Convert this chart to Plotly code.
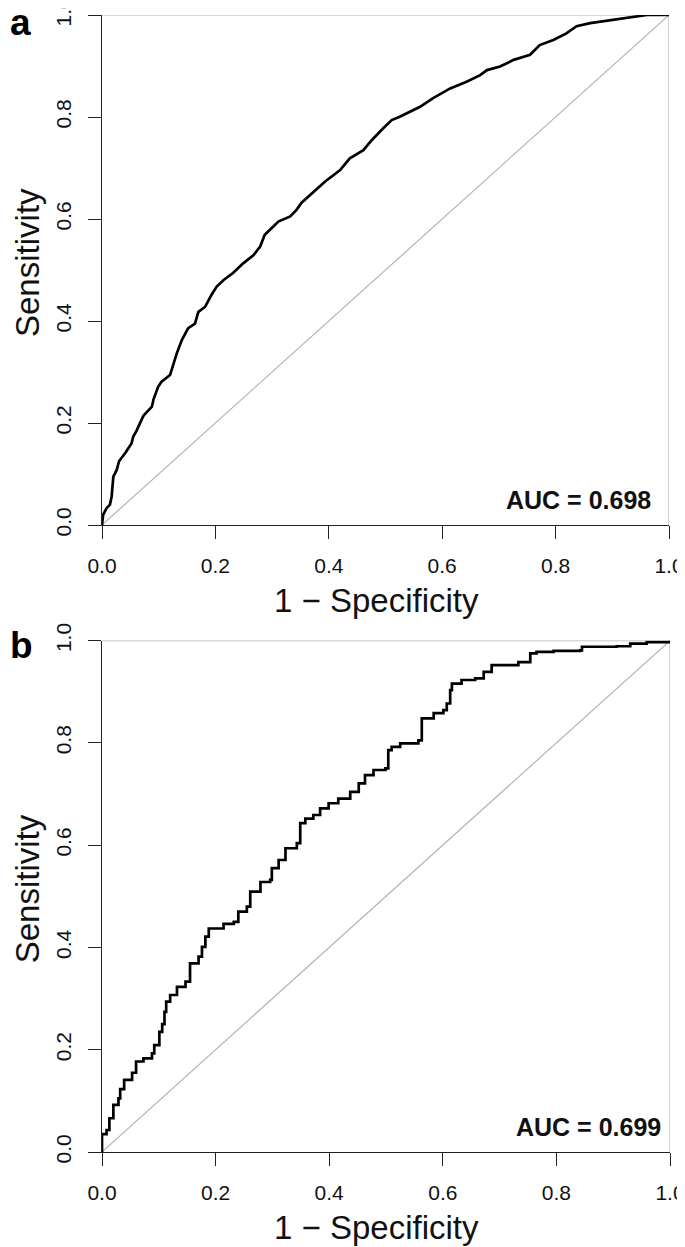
import plotly.graph_objects as go

W, H = 685, 1247

# ---- data: ROC curve points (1 - specificity, sensitivity) ----
fpr_a = [0, 0.002, 0.008, 0.014, 0.017, 0.019, 0.020, 0.026, 0.030, 0.041, 0.044, 0.052,
         0.055, 0.061, 0.073, 0.088, 0.091, 0.099, 0.105, 0.120, 0.132, 0.141, 0.152,
         0.164, 0.170, 0.182, 0.193, 0.202, 0.214, 0.231, 0.249, 0.267, 0.279, 0.287,
         0.299, 0.311, 0.332, 0.343, 0.352, 0.376, 0.393, 0.420, 0.437, 0.461, 0.476,
         0.496, 0.511, 0.526, 0.561, 0.584, 0.614, 0.643, 0.667, 0.679, 0.702, 0.726,
         0.755, 0.772, 0.796, 0.819, 0.837, 0.861, 0.896, 0.931, 0.961, 1.0]
tpr_a = [0, 0.020, 0.033, 0.040, 0.056, 0.085, 0.095, 0.108, 0.125, 0.141, 0.147, 0.160,
         0.173, 0.185, 0.214, 0.232, 0.247, 0.271, 0.281, 0.294, 0.337, 0.363, 0.386,
         0.395, 0.418, 0.428, 0.451, 0.467, 0.480, 0.494, 0.513, 0.529, 0.546, 0.569,
         0.582, 0.595, 0.605, 0.618, 0.632, 0.657, 0.673, 0.696, 0.719, 0.735, 0.755,
         0.778, 0.794, 0.801, 0.820, 0.837, 0.856, 0.869, 0.882, 0.892, 0.899, 0.912,
         0.922, 0.941, 0.951, 0.964, 0.978, 0.984, 0.990, 0.996, 1.0, 1.0]

fpr_b = [0, 0, 0.008, 0.013, 0.020, 0.029, 0.032, 0.039, 0.053, 0.060, 0.073, 0.088,
         0.092, 0.101, 0.106, 0.110, 0.113, 0.120, 0.132, 0.147, 0.155, 0.170, 0.176,
         0.182, 0.188, 0.214, 0.232, 0.240, 0.255, 0.261, 0.279, 0.296, 0.299, 0.311,
         0.323, 0.343, 0.349, 0.358, 0.372, 0.384, 0.399, 0.416, 0.437, 0.452, 0.463,
         0.478, 0.499, 0.504, 0.510, 0.525, 0.557, 0.563, 0.584, 0.601, 0.607, 0.613,
         0.616, 0.633, 0.657, 0.672, 0.686, 0.733, 0.754, 0.765, 0.795, 0.842, 0.845,
         0.906, 0.930, 0.959, 1.0]
tpr_b = [0, 0.035, 0.043, 0.066, 0.092, 0.105, 0.123, 0.141, 0.155, 0.177, 0.183, 0.193,
         0.209, 0.235, 0.250, 0.274, 0.294, 0.307, 0.323, 0.333, 0.369, 0.382, 0.401,
         0.421, 0.437, 0.446, 0.450, 0.470, 0.480, 0.509, 0.528, 0.532, 0.555, 0.571,
         0.594, 0.604, 0.643, 0.652, 0.659, 0.672, 0.682, 0.691, 0.704, 0.721, 0.737,
         0.747, 0.750, 0.786, 0.792, 0.799, 0.805, 0.848, 0.858, 0.864, 0.877, 0.903,
         0.916, 0.923, 0.926, 0.939, 0.952, 0.958, 0.975, 0.978, 0.980, 0.981, 0.988,
         0.989, 0.994, 0.997, 1.0]

auc_labels = ["AUC = 0.698", "AUC = 0.699"]
panel_labels = ["a", "b"]
tick_vals = [0, 0.2, 0.4, 0.6, 0.8, 1.0]
tick_text = ["0.0", "0.2", "0.4", "0.6", "0.8", "1.0"]
x_title = "1 \u2212 Specificity"
y_title = "Sensitivity"
ref_x = [0, 1]
ref_y = [0, 1]

FONT = "Liberation Sans, Arial, Helvetica, sans-serif"

# pixel geometry of each panel on the page (left, right, bottom, top)
geo = [dict(l=102, r=669, b=525, t=15), dict(l=102, r=670, b=1152, t=640.6)]
OFF = 8  # the page body adds an 8px margin around the figure


def fx(p):
    return (p - OFF) / W


def fy(p):
    return 1 - (p - OFF) / H


fig = go.Figure()
curves = [(fpr_a, tpr_a, "linear"), (fpr_b, tpr_b, "hv")]

for i, (fx_d, ty_d, shape) in enumerate(curves):
    xa = "x" if i == 0 else "x2"
    ya = "y" if i == 0 else "y2"
    fig.add_trace(go.Scatter(x=ref_x, y=ref_y, mode="lines", xaxis=xa, yaxis=ya,
                             line=dict(color="#b4b4b4", width=1.2), showlegend=False,
                             hoverinfo="skip"))
    fig.add_trace(go.Scatter(x=[ref_x[0], ref_x[1], ref_x[1]], y=[ref_y[1], ref_y[1], ref_y[0]],
                             mode="lines", xaxis=xa, yaxis=ya,
                             line=dict(color="#b4b4b4", width=1.2), showlegend=False,
                             hoverinfo="skip", cliponaxis=False))
    fig.add_trace(go.Scatter(x=fx_d, y=ty_d, mode="lines", xaxis=xa, yaxis=ya,
                             line=dict(color="black", width=2.7, shape=shape),
                             showlegend=False))

axis_common = dict(range=[0, 1], tickvals=tick_vals, ticktext=tick_text,
                   showline=True, linecolor="#222", linewidth=1.3, ticks="outside",
                   ticklen=13, tickwidth=1.3, tickcolor="#222", showgrid=False,
                   zeroline=False, tickfont=dict(family=FONT, size=21, color="#111"),
                   fixedrange=True, automargin=False, ticklabeloverflow="allow")

layout = dict(width=W, height=H, margin=dict(l=0, r=0, t=0, b=0, pad=0),
              plot_bgcolor="white", paper_bgcolor="white", showlegend=False,
              template="none")

for i, g in enumerate(geo):
    sx = "" if i == 0 else "2"
    layout["xaxis" + sx] = dict(axis_common, domain=[fx(g["l"]), fx(g["r"])],
                                anchor="y" + sx, ticklabelstandoff=9)
    layout["yaxis" + sx] = dict(axis_common, domain=[fy(g["b"]), fy(g["t"])],
                                anchor="x" + sx, tickangle=-90, ticklabelstandoff=8)

fig.update_layout(**layout)

annots = []
letter_y = [22, 645]
for i, g in enumerate(geo):
    mid_y = (g["b"] + g["t"]) / 2 - 7
    annots.append(dict(text=y_title, x=fx(27), y=fy(mid_y), xref="paper", yref="paper",
                       textangle=-90, showarrow=False, xanchor="center", yanchor="middle",
                       font=dict(family=FONT, size=33, color="#111")))
    annots.append(dict(text=x_title, x=fx(376), y=fy(g["b"] + 75), xref="paper",
                       yref="paper", showarrow=False, xanchor="center", yanchor="middle",
                       font=dict(family=FONT, size=33, color="#111")))
    annots.append(dict(text="<b>" + auc_labels[i] + "</b>",
                       x=fx(653 if i == 0 else 663), y=fy(g["b"] - 25), xref="paper",
                       yref="paper", showarrow=False, xanchor="right", yanchor="middle",
                       font=dict(family=FONT, size=25, color="#111")))
    annots.append(dict(text="<b>" + panel_labels[i] + "</b>",
                       x=0, y=fy(letter_y[i]), xref="paper", yref="paper",
                       showarrow=False, xanchor="left", yanchor="middle",
                       font=dict(family=FONT, size=37, color="black")))

fig.update_layout(annotations=annots)
fig.write_html("out.html")
